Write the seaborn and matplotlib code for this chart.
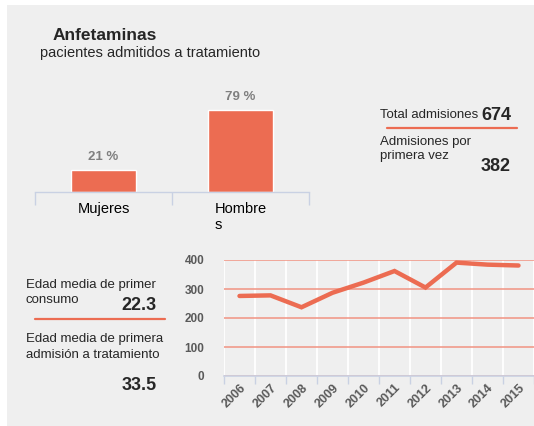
import numpy as np
import pandas as pd
import seaborn as sns
import matplotlib as mpl
mpl.use('Agg')
import matplotlib.pyplot as plt
from matplotlib.patches import Rectangle
from matplotlib.lines import Line2D

sns.set_theme(style='white')
plt.rcParams['font.family'] = ['Liberation Sans', 'DejaVu Sans']

# datos
sexos = ['Mujeres', 'Hombre\ns']
porcentajes = [21, 79]
anios = ['2006', '2007', '2008', '2009', '2010', '2011', '2012', '2013', '2014', '2015']
admisiones = [276, 278, 237, 287, 322, 362, 305, 391, 384, 381]
total_admisiones = '674'
primera_vez = '382'
edad_consumo = '22.3'
edad_admision = '33.5'

ROJO = '#ec6c52'
FONDO = '#efefef'
EJE = '#c9d1e3'
GRIS = '#595959'

fig = plt.figure(figsize=(5.34, 4.26), dpi=100)
fig.patch.set_facecolor('white')
# panel gris de fondo
fig.patches.append(Rectangle((7/534, 0), 1, 1 - 5/426, transform=fig.transFigure,
                             facecolor=FONDO, edgecolor='none', zorder=-10))

# ---- barras hombres / mujeres
ax1 = fig.add_axes([35/534, 1 - 192/426, 274/534, 104/426])
ax1.set_facecolor('none')
df_sexo = pd.DataFrame({'sexo': sexos, 'pct': porcentajes})
sns.barplot(data=df_sexo, x='sexo', y='pct', color=ROJO, saturation=1,
            width=0.47, ax=ax1)
ax1.set_ylim(0, 100)
ax1.set_xlim(-0.5, 1.5)
ax1.bar_label(ax1.containers[0], labels=[f'{v} %' for v in porcentajes],
              padding=5, fontsize=9.5, fontweight='bold', color='#7f7f7f')
for s in ['left', 'right', 'top']:
    ax1.spines[s].set_visible(False)
ax1.spines['bottom'].set_color(EJE)
ax1.spines['bottom'].set_linewidth(1)
ax1.set_yticks([])
ax1.set_xlabel('')
ax1.set_ylabel('')
ax1.set_xticks([-0.5, 0.5, 1.5], minor=True)
ax1.tick_params(axis='x', which='minor', bottom=True, length=9, width=1, color=EJE, direction='out')
ax1.tick_params(axis='x', which='major', bottom=False, length=0, pad=7, labelsize=10.5, labelcolor='black')
for t in ax1.get_xticklabels():
    t.set_multialignment('left')
    t.set_verticalalignment('top')

# ---- linea de admisiones por anio
ax2 = fig.add_axes([224/534, 50/426, 310/534, 116/426])
ax2.set_facecolor('none')
df_anio = pd.DataFrame({'anio': anios, 'n': admisiones})
sns.lineplot(data=df_anio, x='anio', y='n', color=ROJO, linewidth=3.2,
             solid_capstyle='round', solid_joinstyle='miter', ax=ax2, clip_on=False, zorder=5)
ax2.set_xlim(-0.5, len(anios) - 0.5)
ax2.set_ylim(0, 400)
ax2.set_yticks([0, 100, 200, 300, 400])
ax2.yaxis.grid(True, color='#f19382', linewidth=1.1)
ax2.set_xticks(np.arange(-0.5, len(anios)), minor=True)
ax2.xaxis.grid(True, which='minor', color='white', linewidth=1.3)
ax2.xaxis.grid(False, which='major')
for s in ['left', 'right', 'top']:
    ax2.spines[s].set_visible(False)
ax2.spines['bottom'].set_color(EJE)
ax2.spines['bottom'].set_linewidth(1.2)
ax2.tick_params(axis='x', which='minor', bottom=True, length=6, width=1, color=EJE, direction='out')
ax2.tick_params(axis='x', which='major', bottom=False, length=0, pad=4, labelsize=9, labelcolor=GRIS)
ax2.tick_params(axis='y', left=False, length=0, pad=14, labelsize=8.5, labelcolor=GRIS)
for t in ax2.get_xticklabels():
    t.set_rotation(45)
    t.set_ha('right')
    t.set_rotation_mode('anchor')
    t.set_fontweight('bold')
for t in ax2.get_yticklabels():
    t.set_fontweight('bold')
ax2.set_xlabel('')
ax2.set_ylabel('')

# ---- textos
def fy(y):
    return 1 - y / 426

def fx(x):
    return x / 534

fig.text(fx(53), fy(36), 'Anfetaminas', fontsize=12.5, fontweight='bold', va='center')
fig.text(fx(40), fy(53), 'pacientes admitidos a tratamiento', fontsize=10.5, va='center')

fig.text(fx(380), fy(115), 'Total admisiones', fontsize=9.5, va='center')
fig.text(fx(511), fy(115), total_admisiones, fontsize=13, fontweight='bold', va='center', ha='right')
fig.lines.append(Line2D([fx(387), fx(517)], [fy(128), fy(128)], transform=fig.transFigure,
                        color=ROJO, linewidth=1.6))
fig.text(fx(380), fy(142), 'Admisiones por', fontsize=9.5, va='center')
fig.text(fx(380), fy(156), 'primera vez', fontsize=9.5, va='center')
fig.text(fx(511), fy(166), primera_vez, fontsize=13, fontweight='bold', va='center', ha='right')

fig.text(fx(26), fy(285), 'Edad media de primer', fontsize=9.5, va='center')
fig.text(fx(26), fy(300), 'consumo', fontsize=9.5, va='center')
fig.text(fx(157), fy(305), edad_consumo, fontsize=13, fontweight='bold', va='center', ha='right')
fig.lines.append(Line2D([fx(35), fx(165)], [fy(319), fy(319)], transform=fig.transFigure,
                        color=ROJO, linewidth=1.6))
fig.text(fx(26), fy(339), 'Edad media de primera', fontsize=9.5, va='center')
fig.text(fx(26), fy(355), 'admisión a tratamiento', fontsize=9.5, va='center')
fig.text(fx(157), fy(385), edad_admision, fontsize=13, fontweight='bold', va='center', ha='right')

fig.savefig('out.png', dpi=100)
